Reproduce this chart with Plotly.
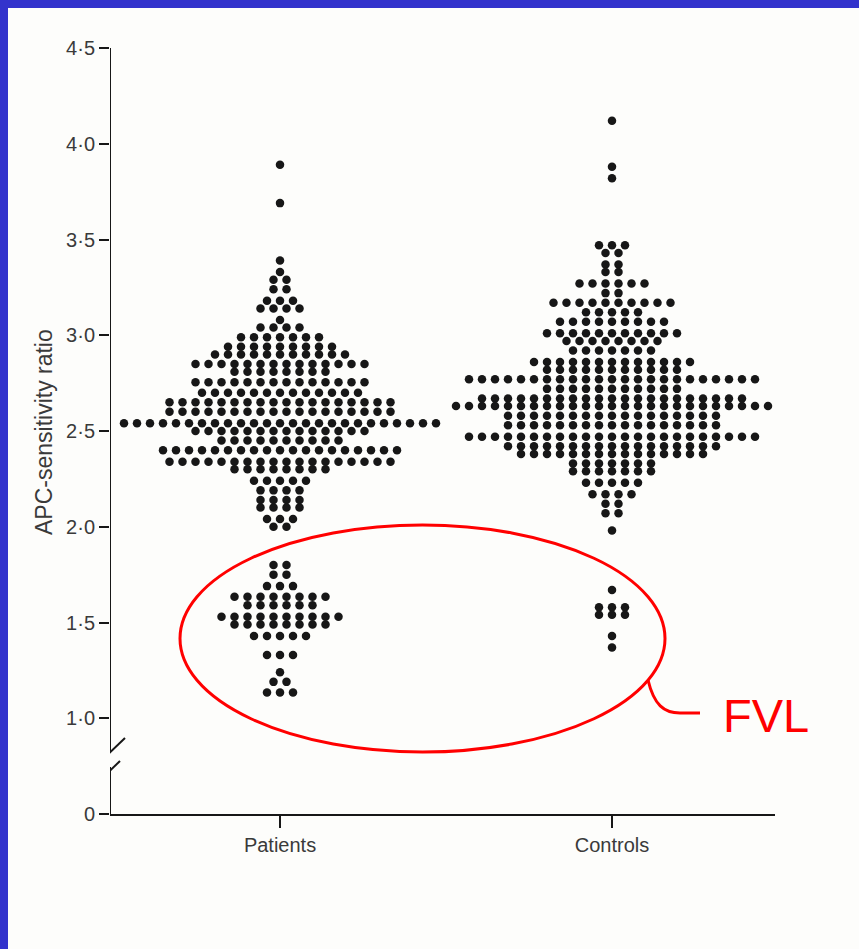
import plotly.graph_objects as go

# ---------------- data ----------------
categories = ["Patients", "Controls"]
category_pos = [1, 2]

patient_ratio = [3.89, 3.69, 3.39, 3.33, 3.29, 3.24, 3.18, 3.14, 3.08, 3.04, 2.99, 2.94,
                 2.90, 2.85, 2.81, 2.755, 2.70, 2.65, 2.60, 2.54, 2.50, 2.45, 2.40, 2.34,
                 2.30, 2.24, 2.19, 2.14, 2.10, 2.04, 2.00, 1.80, 1.75, 1.69, 1.635, 1.59,
                 1.53, 1.49, 1.43, 1.33, 1.24, 1.19, 1.135]
patient_count = [1, 1, 1, 1, 2, 2, 3, 4, 1, 4, 7, 9,
                 11, 14, 8, 14, 13, 18, 18, 25, 14, 10, 19, 18,
                 8, 5, 4, 4, 4, 3, 2, 2, 2, 3, 8, 6,
                 10, 8, 5, 3, 1, 2, 3]

control_ratio = [4.12, 3.88, 3.82, 3.47, 3.43, 3.37, 3.33, 3.27, 3.22, 3.17, 3.12, 3.07,
                 3.01, 2.97, 2.92, 2.86, 2.82, 2.77, 2.72, 2.67, 2.63, 2.58, 2.53, 2.47,
                 2.42, 2.38, 2.33, 2.29, 2.23, 2.17, 2.12, 2.07, 1.98, 1.67, 1.58, 1.54,
                 1.43, 1.37]
control_count = [1, 1, 1, 3, 2, 2, 2, 6, 2, 10, 5, 9,
                 11, 8, 7, 13, 11, 23, 11, 21, 25, 17, 17, 23,
                 17, 15, 7, 7, 5, 4, 2, 2, 1, 1, 3, 3,
                 1, 1]

# y axis: value 0 is drawn at position 0.5 (axis break)
y_tickvals = [0.5, 1.0, 1.5, 2.0, 2.5, 3.0, 3.5, 4.0, 4.5]
y_ticktext = ["0", "1·0", "1·5", "2·0", "2·5", "3·0", "3·5", "4·0", "4·5"]

# ---------------- geometry ----------------
W, H = 859, 949
ML, MR, MT, MB = 110, 84, 48, 135
PW, PH = W - ML - MR, H - MT - MB
PX_PER_X = 332.0
X_MIN = 1 - 170 / PX_PER_X
X_MAX = X_MIN + PW / PX_PER_X
Y_MIN, Y_MAX = 0.5, 4.5
PX_PER_Y = PH / (Y_MAX - Y_MIN)


def px_x(px):
    return X_MIN + (px - ML) / PX_PER_X


def px_y(py):
    return Y_MAX - (py - MT) / PX_PER_Y


def paper_x(px):
    return (px - ML) / PW


def paper_y(py):
    return (H - MB - py) / PH


def swarm(center, ratios, counts, step_px=13.0):
    xs, ys = [], []
    for r, n in zip(ratios, counts):
        for i in range(n):
            xs.append(center + (i - (n - 1) / 2) * step_px / PX_PER_X)
            ys.append(r)
    return xs, ys


BLUE = "rgb(51,51,204)"
BG = "#fdfdfb"
INK = "#171717"
TXT = "#3a3a3a"
FONT = "Liberation Sans, Arial, Helvetica, sans-serif"

fig = go.Figure()
for pos, name, ratios, counts in [
    (category_pos[0], categories[0], patient_ratio, patient_count),
    (category_pos[1], categories[1], control_ratio, control_count),
]:
    xs, ys = swarm(pos, ratios, counts)
    fig.add_trace(go.Scatter(
        x=xs, y=ys, mode="markers", name=name, showlegend=False,
        marker=dict(size=8.5, color=INK, line=dict(width=0)),
        hoverinfo="y+name",
    ))

shapes = [
    # white slide area over blue border
    dict(type="rect", xref="paper", yref="paper",
         x0=paper_x(8), x1=paper_x(W + 5), y0=paper_y(H + 5), y1=paper_y(8),
         fillcolor=BG, line=dict(width=0), layer="below"),
    # broken y axis
    dict(type="line", xref="x", yref="y", x0=px_x(110), x1=px_x(110),
         y0=Y_MAX, y1=px_y(752), line=dict(color=INK, width=2)),
    dict(type="line", xref="x", yref="y", x0=px_x(110), x1=px_x(110),
         y0=px_y(767), y1=Y_MIN, line=dict(color=INK, width=2)),
    dict(type="line", xref="x", yref="y", x0=px_x(104), x1=px_x(125),
         y0=px_y(758), y1=px_y(738), line=dict(color=INK, width=2)),
    dict(type="line", xref="x", yref="y", x0=px_x(99), x1=px_x(120),
         y0=px_y(781), y1=px_y(761), line=dict(color=INK, width=2)),
    # red ellipse
    dict(type="circle", xref="x", yref="y", x0=px_x(180), x1=px_x(665),
         y0=px_y(752), y1=px_y(525), line=dict(color="#ff0000", width=3)),
    # connector
    dict(type="path", xref="x", yref="y",
         path=(f"M {px_x(648)},{px_y(680)} C {px_x(654)},{px_y(705)} "
               f"{px_x(664)},{px_y(713)} {px_x(680)},{px_y(713)} "
               f"L {px_x(700)},{px_y(713)}"),
         line=dict(color="#ff0000", width=3)),
]

annotations = [
    dict(text="APC-sensitivity ratio", xref="paper", yref="paper",
         x=paper_x(44), y=paper_y(432), textangle=-90, showarrow=False,
         xanchor="center", yanchor="middle",
         font=dict(family=FONT, size=23, color=TXT)),
    dict(text="FVL", xref="x", yref="y", x=px_x(721), y=px_y(715),
         xanchor="left", yanchor="middle", showarrow=False,
         font=dict(family=FONT, size=47, color="#ff0000")),
]

fig.update_layout(
    width=W, height=H,
    margin=dict(l=ML, r=MR, t=MT, b=MB, pad=0),
    paper_bgcolor=BLUE, plot_bgcolor="rgba(0,0,0,0)",
    font=dict(family=FONT, color=TXT),
    shapes=shapes, annotations=annotations,
    xaxis=dict(range=[X_MIN, X_MAX], tickvals=category_pos, ticktext=categories,
               showline=True, linecolor=INK, linewidth=2,
               ticks="outside", ticklen=12, tickwidth=1.5, tickcolor=INK,
               showgrid=False, zeroline=False,
               tickfont=dict(family=FONT, size=20, color=TXT)),
    yaxis=dict(range=[Y_MIN, Y_MAX], tickvals=y_tickvals, ticktext=y_ticktext,
               showline=False, ticks="outside", ticklen=10, tickwidth=2,
               tickcolor=INK, showgrid=False, zeroline=False,
               tickfont=dict(family=FONT, size=20, color=TXT)),
)

fig.write_html("out.html")
